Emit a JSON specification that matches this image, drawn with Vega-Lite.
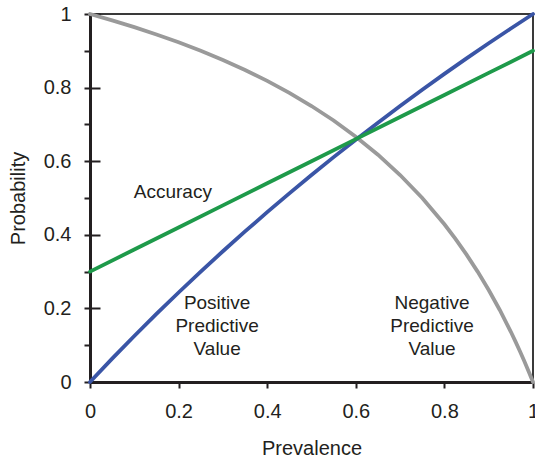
{
  "$schema": "https://vega.github.io/schema/vega-lite/v6.json",
  "autosize": "none",
  "width": 443,
  "height": 368,
  "padding": {"left": 90, "top": 14, "right": 2, "bottom": 80},
  "background": "white",
  "config": {
    "font": "Liberation Sans",
    "view": {"stroke": "#3a3a3a", "strokeWidth": 2},
    "axis": {
      "domainColor": "#231f20",
      "domainWidth": 3,
      "tickColor": "#231f20",
      "tickWidth": 2,
      "tickSize": 6,
      "labelFont": "Liberation Sans",
      "labelFontSize": 20,
      "labelColor": "#231f20",
      "labelFlush": false,
      "labelOverlap": false,
      "titleFont": "Liberation Sans",
      "titleFontSize": 20,
      "titleFontWeight": "normal",
      "titleColor": "#231f20"
    }
  },
  "datasets": {
    "curves": [
      {"series": "Negative Predictive Value", "prevalence": 0, "probability": 1},
      {"series": "Negative Predictive Value", "prevalence": 0.05, "probability": 0.9828},
      {"series": "Negative Predictive Value", "prevalence": 0.1, "probability": 0.9643},
      {"series": "Negative Predictive Value", "prevalence": 0.15, "probability": 0.9444},
      {"series": "Negative Predictive Value", "prevalence": 0.2, "probability": 0.9231},
      {"series": "Negative Predictive Value", "prevalence": 0.25, "probability": 0.9},
      {"series": "Negative Predictive Value", "prevalence": 0.3, "probability": 0.875},
      {"series": "Negative Predictive Value", "prevalence": 0.35, "probability": 0.8478},
      {"series": "Negative Predictive Value", "prevalence": 0.4, "probability": 0.8182},
      {"series": "Negative Predictive Value", "prevalence": 0.45, "probability": 0.7857},
      {"series": "Negative Predictive Value", "prevalence": 0.5, "probability": 0.75},
      {"series": "Negative Predictive Value", "prevalence": 0.55, "probability": 0.7105},
      {"series": "Negative Predictive Value", "prevalence": 0.6, "probability": 0.6667},
      {"series": "Negative Predictive Value", "prevalence": 0.65, "probability": 0.6176},
      {"series": "Negative Predictive Value", "prevalence": 0.7, "probability": 0.5625},
      {"series": "Negative Predictive Value", "prevalence": 0.75, "probability": 0.5},
      {"series": "Negative Predictive Value", "prevalence": 0.8, "probability": 0.4286},
      {"series": "Negative Predictive Value", "prevalence": 0.825, "probability": 0.3889},
      {"series": "Negative Predictive Value", "prevalence": 0.85, "probability": 0.3462},
      {"series": "Negative Predictive Value", "prevalence": 0.875, "probability": 0.3},
      {"series": "Negative Predictive Value", "prevalence": 0.9, "probability": 0.25},
      {"series": "Negative Predictive Value", "prevalence": 0.925, "probability": 0.1957},
      {"series": "Negative Predictive Value", "prevalence": 0.95, "probability": 0.1364},
      {"series": "Negative Predictive Value", "prevalence": 0.96, "probability": 0.1111},
      {"series": "Negative Predictive Value", "prevalence": 0.97, "probability": 0.0849},
      {"series": "Negative Predictive Value", "prevalence": 0.98, "probability": 0.0577},
      {"series": "Negative Predictive Value", "prevalence": 0.99, "probability": 0.0294},
      {"series": "Negative Predictive Value", "prevalence": 1, "probability": 0},

      {"series": "Positive Predictive Value", "prevalence": 0, "probability": 0},
      {"series": "Positive Predictive Value", "prevalence": 0.05, "probability": 0.0634},
      {"series": "Positive Predictive Value", "prevalence": 0.1, "probability": 0.125},
      {"series": "Positive Predictive Value", "prevalence": 0.15, "probability": 0.1849},
      {"series": "Positive Predictive Value", "prevalence": 0.2, "probability": 0.2432},
      {"series": "Positive Predictive Value", "prevalence": 0.25, "probability": 0.3},
      {"series": "Positive Predictive Value", "prevalence": 0.3, "probability": 0.3553},
      {"series": "Positive Predictive Value", "prevalence": 0.35, "probability": 0.4091},
      {"series": "Positive Predictive Value", "prevalence": 0.4, "probability": 0.4615},
      {"series": "Positive Predictive Value", "prevalence": 0.45, "probability": 0.5127},
      {"series": "Positive Predictive Value", "prevalence": 0.5, "probability": 0.5625},
      {"series": "Positive Predictive Value", "prevalence": 0.55, "probability": 0.6111},
      {"series": "Positive Predictive Value", "prevalence": 0.6, "probability": 0.6585},
      {"series": "Positive Predictive Value", "prevalence": 0.65, "probability": 0.7048},
      {"series": "Positive Predictive Value", "prevalence": 0.7, "probability": 0.75},
      {"series": "Positive Predictive Value", "prevalence": 0.75, "probability": 0.7941},
      {"series": "Positive Predictive Value", "prevalence": 0.8, "probability": 0.8372},
      {"series": "Positive Predictive Value", "prevalence": 0.85, "probability": 0.8793},
      {"series": "Positive Predictive Value", "prevalence": 0.9, "probability": 0.9205},
      {"series": "Positive Predictive Value", "prevalence": 0.95, "probability": 0.9607},
      {"series": "Positive Predictive Value", "prevalence": 1, "probability": 1},

      {"series": "Accuracy", "prevalence": 0, "probability": 0.3},
      {"series": "Accuracy", "prevalence": 0.1, "probability": 0.36},
      {"series": "Accuracy", "prevalence": 0.2, "probability": 0.42},
      {"series": "Accuracy", "prevalence": 0.3, "probability": 0.48},
      {"series": "Accuracy", "prevalence": 0.4, "probability": 0.54},
      {"series": "Accuracy", "prevalence": 0.5, "probability": 0.6},
      {"series": "Accuracy", "prevalence": 0.6, "probability": 0.66},
      {"series": "Accuracy", "prevalence": 0.7, "probability": 0.72},
      {"series": "Accuracy", "prevalence": 0.8, "probability": 0.78},
      {"series": "Accuracy", "prevalence": 0.9, "probability": 0.84},
      {"series": "Accuracy", "prevalence": 1, "probability": 0.9}
    ],
    "labels": [
      {"text": "Accuracy", "prevalence": 0.187, "probability": 0.516},
      {"text": "Positive\nPredictive\nValue", "prevalence": 0.287, "probability": 0.215},
      {"text": "Negative\nPredictive\nValue", "prevalence": 0.772, "probability": 0.215}
    ]
  },
  "encoding": {
    "x": {
      "field": "prevalence",
      "type": "quantitative",
      "scale": {"domain": [0, 1], "nice": false, "zero": false},
      "axis": {
        "title": "Prevalence",
        "values": [0, 0.2, 0.4, 0.6, 0.8, 1],
        "format": "~g",
        "grid": false,
        "labelPadding": 13,
        "titlePadding": 17
      }
    },
    "y": {
      "field": "probability",
      "type": "quantitative",
      "scale": {"domain": [0, 1], "nice": false, "zero": false},
      "axis": {
        "title": "Probability",
        "values": [0, 0.1, 0.2, 0.3, 0.4, 0.5, 0.6, 0.7, 0.8, 0.9, 1],
        "format": "~g",
        "labelExpr": "round(datum.value * 10) % 2 === 0 ? datum.label : ''",
        "labelPadding": 13,
        "titlePadding": 15,
        "grid": true,
        "gridColor": "#231f20",
        "gridWidth": 2,
        "gridDash": [10, 2000],
        "gridOpacity": {
          "condition": {"test": "round(datum.value * 10) % 2 === 0", "value": 1},
          "value": 0
        }
      }
    }
  },
  "layer": [
    {
      "data": {"name": "curves"},
      "mark": {"type": "line", "strokeWidth": 3.8, "strokeCap": "round"},
      "encoding": {
        "color": {
          "field": "series",
          "type": "nominal",
          "scale": {
            "domain": ["Negative Predictive Value", "Accuracy", "Positive Predictive Value"],
            "range": ["#9a9a9a", "#1e9a4a", "#3a55a6"]
          },
          "legend": null
        },
        "order": {"field": "prevalence", "type": "quantitative"}
      }
    },
    {
      "data": {"name": "labels"},
      "mark": {
        "type": "text",
        "font": "Liberation Sans",
        "fontSize": 19,
        "color": "#231f20",
        "align": "center",
        "baseline": "middle",
        "lineBreak": "\n",
        "lineHeight": 23
      },
      "encoding": {
        "text": {"field": "text", "type": "nominal"}
      }
    }
  ]
}
